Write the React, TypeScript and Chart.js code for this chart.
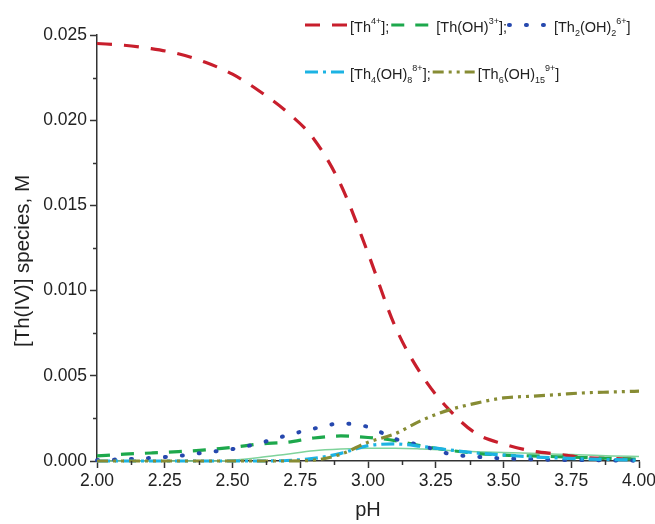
import { useEffect, useRef } from "react";
import { Chart, registerables } from "chart.js";

Chart.register(...registerables);

const pH = [2.0, 2.1, 2.2, 2.3, 2.4, 2.5, 2.6, 2.7, 2.8, 2.9, 3.0, 3.1, 3.2, 3.3, 3.4, 3.5, 3.6, 3.7, 3.8, 3.9, 4.0];

const th4 = [0.0245, 0.0244, 0.0242, 0.0239, 0.0234, 0.0227, 0.0217, 0.0205, 0.0189, 0.0162, 0.0122, 0.0079, 0.005, 0.003, 0.0016, 0.001, 0.0006, 0.0004, 0.0002, 0.00015, 0.0001];
const thOH = [0.0003, 0.0004, 0.00047, 0.00055, 0.00065, 0.0008, 0.001, 0.0011, 0.00135, 0.00147, 0.00138, 0.0012, 0.00088, 0.00063, 0.00045, 0.00035, 0.0003, 0.00025, 0.0002, 0.00015, 0.0001];
const th2OH2 = [0.00005, 0.0001, 0.00018, 0.0003, 0.0005, 0.0007, 0.00105, 0.0015, 0.0019, 0.0022, 0.002, 0.0013, 0.0009, 0.00042, 0.00025, 0.00015, 0.0001, 0.00007, 0.00005, 0.00003, 0.00002];
const th4OH8 = [0, 0, 0, 0, 0, 0, 0, 0.00003, 0.00015, 0.00045, 0.0009, 0.001, 0.00085, 0.00065, 0.00047, 0.00035, 0.00025, 0.00018, 0.00012, 0.00008, 0.00005];
const th6OH15 = [0, 0, 0, 0, 0, 0, 0, 0, 0.00005, 0.0004, 0.0011, 0.0016, 0.0024, 0.003, 0.0034, 0.0037, 0.0038, 0.0039, 0.004, 0.00405, 0.0041];
const thinLine = [0, 0, 0, 0, 0, 0.00005, 0.0002, 0.0004, 0.0006, 0.0007, 0.00075, 0.00075, 0.0007, 0.00062, 0.00055, 0.0005, 0.00045, 0.0004, 0.00035, 0.0003, 0.00027];

const yTicks = [0, 0.005, 0.01, 0.015, 0.02, 0.025];
const xTicks = [2.0, 2.25, 2.5, 2.75, 3.0, 3.25, 3.5, 3.75, 4.0];

const yTitle = "[Th(IV)] species, M";
const xTitle = "pH";

// rich legend labels: [text, mode] mode 0 normal, 1 superscript, -1 subscript
type Seg = [string, number];
const legendLabels: Seg[][] = [
  [["[Th", 0], ["4+", 1], ["];", 0]],
  [["[Th(OH)", 0], ["3+", 1], ["];", 0]],
  [["[Th", 0], ["2", -1], ["(OH)", 0], ["2", -1], ["6+", 1], ["]", 0]],
  [["[Th", 0], ["4", -1], ["(OH)", 0], ["8", -1], ["8+", 1], ["];", 0]],
  [["[Th", 0], ["6", -1], ["(OH)", 0], ["15", -1], ["9+", 1], ["]", 0]],
];

const RED = "#C81E2C";
const GREEN = "#1DA84C";
const BLUE = "#2648AE";
const CYAN = "#1CB3E3";
const OLIVE = "#878C34";
const THIN = "#7FD39B";

const series = [
  { data: th4, color: RED, dash: [15, 12], width: 3.2, cap: "butt" },
  { data: thOH, color: GREEN, dash: [13, 11], width: 3.2, cap: "butt" },
  { data: th2OH2, color: BLUE, dash: [1, 16], width: 4, cap: "round" },
  { data: th4OH8, color: CYAN, dash: [13, 5, 3, 5], width: 3.2, cap: "butt" },
  { data: th6OH15, color: OLIVE, dash: [11, 5, 3, 5, 3, 5], width: 3.2, cap: "butt" },
];

const FONT = "'Liberation Sans', Arial, sans-serif";

const richLegend = {
  id: "richLegend",
  afterDraw(chart: any) {
    const ctx = chart.ctx as CanvasRenderingContext2D;
    const rows = [
      { y: 25, items: [0, 1, 2] },
      { y: 72, items: [3, 4] },
    ];
    ctx.save();
    for (const row of rows) {
      let x = 305;
      for (const idx of row.items) {
        const s = series[idx];
        ctx.beginPath();
        ctx.strokeStyle = s.color;
        ctx.lineWidth = s.width;
        ctx.lineCap = s.cap as CanvasLineCap;
        ctx.setLineDash(s.dash);
        ctx.moveTo(x, row.y);
        ctx.lineTo(x + 42, row.y);
        ctx.stroke();
        ctx.setLineDash([]);
        x += 45;
        ctx.fillStyle = "#222";
        ctx.textBaseline = "alphabetic";
        for (const [t, mode] of legendLabels[idx]) {
          if (mode === 0) {
            ctx.font = `14.5px ${FONT}`;
            ctx.fillText(t, x, row.y + 6.5);
          } else if (mode === 1) {
            ctx.font = `9px ${FONT}`;
            ctx.fillText(t, x, row.y - 1);
          } else {
            ctx.font = `9px ${FONT}`;
            ctx.fillText(t, x, row.y + 11);
          }
          x += ctx.measureText(t).width;
        }
        x += 2;
      }
    }
    ctx.restore();
  },
};

const axisExtras = {
  id: "axisExtras",
  afterDraw(chart: any) {
    const ctx = chart.ctx as CanvasRenderingContext2D;
    const xs = chart.scales.x;
    const ys = chart.scales.y;
    const area = chart.chartArea;
    ctx.save();
    ctx.strokeStyle = "#333";
    ctx.lineWidth = 1.5;
    for (let i = 0; i < xTicks.length - 1; i++) {
      const v = (xTicks[i] + xTicks[i + 1]) / 2;
      const px = Math.round(xs.getPixelForValue(v)) + 0.5;
      ctx.beginPath();
      ctx.moveTo(px, area.bottom);
      ctx.lineTo(px, area.bottom + 4);
      ctx.stroke();
    }
    for (let i = 0; i < yTicks.length - 1; i++) {
      const v = (yTicks[i] + yTicks[i + 1]) / 2;
      const py = Math.round(ys.getPixelForValue(v)) + 0.5;
      ctx.beginPath();
      ctx.moveTo(area.left, py);
      ctx.lineTo(area.left - 4, py);
      ctx.stroke();
    }
    // y-axis title
    ctx.translate(23, 261);
    ctx.rotate(-Math.PI / 2);
    ctx.fillStyle = "#222";
    ctx.font = `20.5px ${FONT}`;
    ctx.textAlign = "center";
    ctx.textBaseline = "middle";
    ctx.fillText(yTitle, 0, 0);
    ctx.restore();
  },
};

export default function App() {
  const ref = useRef<HTMLCanvasElement>(null);
  useEffect(() => {
    document.body.style.margin = "0";
    const toPts = (arr: number[]) => pH.map((x, i) => ({ x, y: arr[i] }));
    const datasets: any[] = [
      {
        data: toPts(thinLine),
        borderColor: THIN,
        borderWidth: 1.5,
        pointRadius: 0,
        cubicInterpolationMode: "monotone",
        fill: false,
        order: 10,
      },
      ...series.map((s, i) => ({
        data: toPts(s.data),
        borderColor: s.color,
        borderWidth: s.width,
        borderDash: s.dash,
        borderCapStyle: s.cap,
        pointRadius: 0,
        cubicInterpolationMode: "monotone",
        fill: false,
        order: 5 - i,
      })),
    ];
    const chart = new Chart(ref.current!, {
      type: "line",
      data: { datasets },
      options: {
        animation: false,
        responsive: false,
        clip: false as any,
        layout: { padding: { left: 0, right: 16, top: 35, bottom: 0 } },
        plugins: { legend: { display: false }, tooltip: { enabled: false } },
        scales: {
          x: {
            type: "linear",
            min: 2,
            max: 4,
            afterBuildTicks: (s: any) => {
              s.ticks = xTicks.map((v) => ({ value: v }));
            },
            afterFit: (s: any) => {
              s.height = 63;
              s.paddingLeft = 0;
              s.paddingRight = 0;
            },
            ticks: {
              callback: (v: any) => Number(v).toFixed(2),
              font: { family: FONT, size: 17.5 },
              color: "#222",
              padding: 3,
              maxRotation: 0,
            },
            grid: {
              display: true,
              drawOnChartArea: false,
              drawTicks: true,
              tickLength: 7,
              tickWidth: 1.5,
              tickColor: "#333",
            },
            border: { display: true, color: "#333", width: 1.5 },
            title: {
              display: true,
              text: xTitle,
              font: { family: FONT, size: 20 },
              color: "#222",
              padding: { top: 0, bottom: 2 },
            },
          },
          y: {
            type: "linear",
            min: 0,
            max: 0.025,
            afterBuildTicks: (s: any) => {
              s.ticks = yTicks.map((v) => ({ value: v }));
            },
            afterFit: (s: any) => {
              s.width = 97;
              s.paddingTop = 0;
              s.paddingBottom = 0;
            },
            ticks: {
              callback: (v: any) => Number(v).toFixed(3),
              font: { family: FONT, size: 17.5 },
              color: "#222",
              padding: 3,
            },
            grid: {
              display: true,
              drawOnChartArea: false,
              drawTicks: true,
              tickLength: 7,
              tickWidth: 1.5,
              tickColor: "#333",
            },
            border: { display: true, color: "#333", width: 1.5 },
            title: { display: false },
          },
        },
      },
      plugins: [axisExtras, richLegend],
    });
    return () => chart.destroy();
  }, []);
  return <canvas ref={ref} width={655} height={524} style={{ display: "block" }} />;
}
